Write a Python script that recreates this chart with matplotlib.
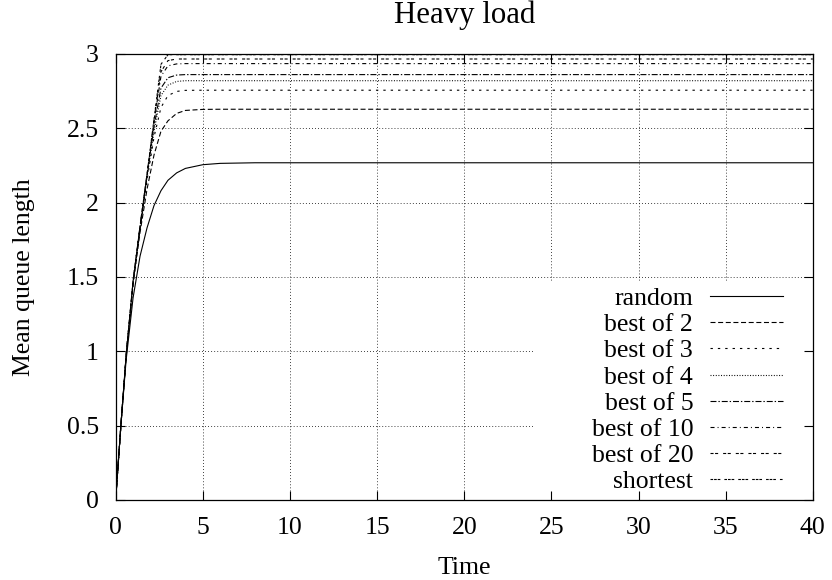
import matplotlib
matplotlib.use('Agg')
import matplotlib.pyplot as plt
from matplotlib.patches import Rectangle

# time samples
time = [0, 0.3, 0.6, 1.0, 1.4, 1.8, 2.2, 2.6, 3.0, 3.5, 4.0, 5.0, 6.0, 8.0, 10.0, 40.0]

random_q = [0, 0.5, 0.94, 1.36, 1.64, 1.83, 1.98, 2.08, 2.15, 2.20, 2.23, 2.255, 2.264, 2.268, 2.268, 2.268]
best2_q = [0, 0.5, 0.96, 1.45, 1.80, 2.09, 2.32, 2.48, 2.55, 2.60, 2.62, 2.627, 2.628, 2.628, 2.628, 2.628]
best3_q = [0, 0.5, 0.97, 1.46, 1.82, 2.15, 2.44, 2.64, 2.72, 2.748, 2.755, 2.756, 2.756, 2.756, 2.756, 2.756]
best4_q = [0, 0.5, 0.97, 1.47, 1.83, 2.17, 2.48, 2.72, 2.79, 2.815, 2.82, 2.82, 2.82, 2.82, 2.82, 2.82]
best5_q = [0, 0.5, 0.97, 1.47, 1.84, 2.18, 2.51, 2.77, 2.84, 2.858, 2.861, 2.861, 2.861, 2.861, 2.861, 2.861]
best10_q = [0, 0.5, 0.97, 1.47, 1.84, 2.19, 2.54, 2.85, 2.92, 2.933, 2.935, 2.935, 2.935, 2.935, 2.935, 2.935]
best20_q = [0, 0.5, 0.97, 1.47, 1.84, 2.19, 2.55, 2.88, 2.955, 2.966, 2.966, 2.966, 2.966, 2.966, 2.966, 2.966]
shortest_q = [0, 0.5, 0.97, 1.47, 1.84, 2.19, 2.56, 2.93, 2.995, 2.995, 2.995, 2.995, 2.995, 2.995, 2.995, 2.995]

labels = ['random', 'best of 2', 'best of 3', 'best of 4', 'best of 5',
          'best of 10', 'best of 20', 'shortest']
series = [random_q, best2_q, best3_q, best4_q, best5_q, best10_q, best20_q, shortest_q]
dashes = [None, (3.6, 1.9), (1.7, 3.6), (0.7, 1.2), (4.3, 1.4, 1.0, 1.4),
          (2.9, 2.2, 0.7, 2.2), (2.2, 1.1, 2.2, 3.6), (1.9, 0.7, 1.9, 0.7, 1.9, 2.9)]

xticks = [0, 5, 10, 15, 20, 25, 30, 35, 40]
yticks = [0, 0.5, 1, 1.5, 2, 2.5, 3]
ytick_labels = ['0', '0.5', '1', '1.5', '2', '2.5', '3']

plt.rcParams['font.family'] = ['Liberation Serif', 'DejaVu Serif']
plt.rcParams['font.size'] = 18.5
plt.rcParams['lines.scale_dashes'] = False


def draw():
    fig = plt.figure(figsize=(8.32, 5.8), dpi=100)
    ax = fig.add_axes([0.139, 0.138, 0.838, 0.769])

    for q, lab, d in zip(series, labels, dashes):
        line, = ax.plot(time, q, color='black', lw=0.8, label=lab, zorder=2)
        if d is not None:
            line.set_dashes(d)

    # grid drawn by hand so ticks stay on top of the key box
    for x in xticks[1:-1]:
        ax.axvline(x, color='black', lw=0.6, dashes=(0.6, 1.6), zorder=0.5)
    for y in yticks[1:-1]:
        ax.axhline(y, color='black', lw=0.6, dashes=(0.6, 1.6), zorder=0.5)

    # opaque key area
    ax.add_patch(Rectangle((0.601, 0), 0.399, 0.491, transform=ax.transAxes,
                           facecolor='white', edgecolor='none', zorder=1))

    ax.set_xlim(0, 40)
    ax.set_ylim(0, 3)
    ax.set_xticks(xticks)
    ax.set_yticks(yticks)
    ax.set_yticklabels(ytick_labels)
    ax.tick_params(direction='in', length=6.5, width=0.8, top=True, right=True)
    ax.tick_params(axis='x', pad=12)
    ax.tick_params(axis='y', pad=12)
    for s in ax.spines.values():
        s.set_linewidth(0.9)

    ax.set_title('Heavy load', pad=22)
    ax.set_xlabel('Time', labelpad=13)
    ax.set_ylabel('Mean queue length', labelpad=23)

    leg = ax.legend(loc='lower right', bbox_to_anchor=(0.957, 0.016), frameon=False,
                    markerfirst=False, handlelength=2.84, handletextpad=0.65,
                    labelspacing=0.12, borderpad=0, borderaxespad=0)
    leg.set_zorder(3)

    fig.savefig('out.png', dpi=100)


if __name__ == '__main__':
    draw()
